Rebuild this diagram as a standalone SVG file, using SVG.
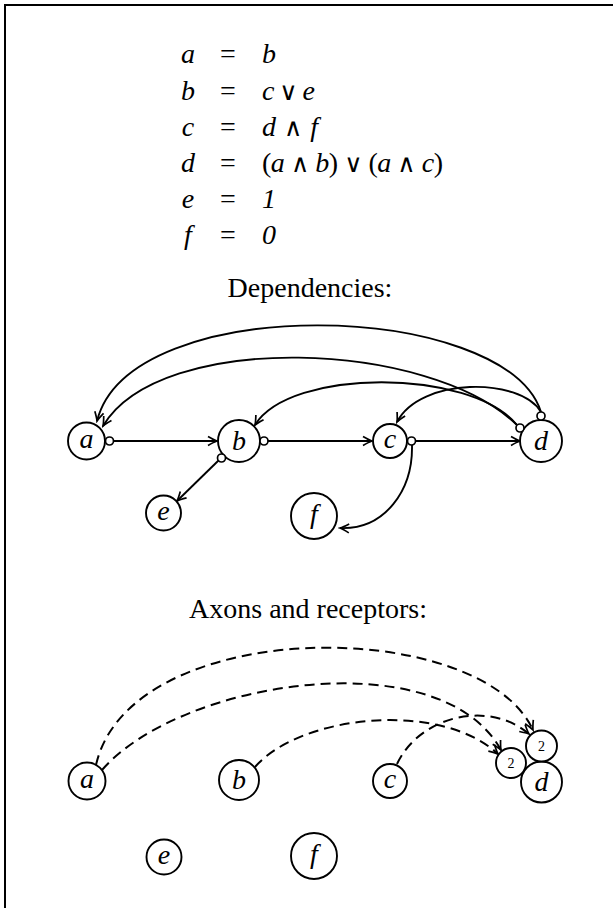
<svg xmlns="http://www.w3.org/2000/svg" width="613" height="908" viewBox="0 0 613 908">
<defs>
<style>
.frame{stroke:#000;stroke-width:2;fill:none}
.node{fill:#fff;stroke:#000;stroke-width:1.9}
.dot{fill:#fff;stroke:#000;stroke-width:1.7}
.lbl{font-family:"Liberation Serif","DejaVu Serif",serif;font-style:italic;font-size:28px;text-anchor:middle}
.small{font-family:"Liberation Serif","DejaVu Serif",serif;font-size:14px;text-anchor:middle}
.eq{font-family:"Liberation Serif","DejaVu Serif",serif;font-size:28px}
.it{font-style:italic}
.op{font-family:"DejaVu Serif",serif;font-size:25px;font-weight:normal}
.title{font-family:"Liberation Serif","DejaVu Serif",serif;font-size:28px;text-anchor:middle}
.edge{fill:none;stroke:#000;stroke-width:1.9}
.dash{fill:none;stroke:#000;stroke-width:2;stroke-dasharray:10 6}
</style>
<marker id="arr" viewBox="-12 -7 14 14" refX="0" refY="0" markerWidth="14" markerHeight="14" orient="auto" markerUnits="userSpaceOnUse">
<path d="M-9,-4.5 Q-3,-1 0,0 Q-3,1 -9,4.5" fill="none" stroke="#000" stroke-width="1.7" stroke-dasharray="none"/>
</marker>
</defs>
<path class="frame" d="M4,5 H613 M5,4 V908"/>
<g id="equations" class="eq">
<text x="188" y="63" text-anchor="middle" class="it">a</text><text x="228" y="63" text-anchor="middle">=</text><text x="262" y="63" class="it">b</text>
<text x="188" y="100" text-anchor="middle" class="it">b</text><text x="228" y="100" text-anchor="middle">=</text><text x="262" y="100" textLength="53" lengthAdjust="spacing"><tspan class="it">c</tspan> <tspan class="op">∨</tspan> <tspan class="it">e</tspan></text>
<text x="188" y="136" text-anchor="middle" class="it">c</text><text x="228" y="136" text-anchor="middle">=</text><text x="262" y="136" textLength="56" lengthAdjust="spacing"><tspan class="it">d</tspan> <tspan class="op">∧</tspan> <tspan class="it">f</tspan></text>
<text x="188" y="172" text-anchor="middle" class="it">d</text><text x="228" y="172" text-anchor="middle">=</text><text x="262" y="172" textLength="181" lengthAdjust="spacing">(<tspan class="it">a</tspan> <tspan class="op">∧</tspan> <tspan class="it">b</tspan>) <tspan class="op">∨</tspan> (<tspan class="it">a</tspan> <tspan class="op">∧</tspan> <tspan class="it">c</tspan>)</text>
<text x="188" y="208" text-anchor="middle" class="it">e</text><text x="228" y="208" text-anchor="middle">=</text><text x="262" y="208" class="it">1</text>
<text x="188" y="244" text-anchor="middle" class="it">f</text><text x="228" y="244" text-anchor="middle">=</text><text x="262" y="244" class="it">0</text>
</g>
<text class="title" x="310" y="297">Dependencies:</text>
<text class="title" x="308" y="618">Axons and receptors:</text>
<g id="connectors">
<path class="edge" marker-end="url(#arr)" d="M114,441 H217"/>
<path class="edge" marker-end="url(#arr)" d="M268,441 H372"/>
<path class="edge" marker-end="url(#arr)" d="M416,441 H520"/>
<path class="edge" marker-end="url(#arr)" d="M219,460 L177,501"/>
<path class="edge" marker-end="url(#arr)" d="M412,445 C413,490 385,530 340,528"/>
<path class="edge" marker-end="url(#arr)" d="M541,412 C505,300 130,290 97,421"/>
<path class="edge" marker-end="url(#arr)" d="M517,425 C430,340 160,330 103,426"/>
<path class="edge" marker-end="url(#arr)" d="M517,425 C470,368 290,368 255,425"/>
<path class="edge" marker-end="url(#arr)" d="M541,412 C520,377 420,377 397,422"/>
<path class="dash" marker-end="url(#arr)" d="M96,765 C130,615 480,615 533,730"/>
<path class="dash" marker-end="url(#arr)" d="M102,770 C180,680 440,640 501,750"/>
<path class="dash" marker-end="url(#arr)" d="M255,767 C300,715 440,700 498,754"/>
<path class="dash" marker-end="url(#arr)" d="M397,764 C420,715 490,700 529,734"/>
</g>
<g id="dep-a"><circle class="node" cx="86.5" cy="441" r="18.5"/><text class="lbl" x="86.5" y="448">a</text></g>
<g id="dep-b"><circle class="node" cx="239" cy="441" r="21"/><text class="lbl" x="239" y="450">b</text></g>
<g id="dep-c"><circle class="node" cx="390" cy="441" r="17"/><text class="lbl" x="390" y="448">c</text></g>
<g id="dep-d"><circle class="node" cx="541" cy="441" r="21"/><text class="lbl" x="541" y="450">d</text></g>
<g id="dep-e"><circle class="node" cx="163.5" cy="513" r="17.5"/><text class="lbl" x="163.5" y="520">e</text></g>
<g id="dep-f"><circle class="node" cx="314" cy="516" r="23"/><text class="lbl" x="314" y="523">f</text></g>
<g id="dep-dots">
<circle class="dot" cx="109.5" cy="441" r="4"/>
<circle class="dot" cx="264" cy="441" r="4"/>
<circle class="dot" cx="221.5" cy="458" r="4"/>
<circle class="dot" cx="411.5" cy="441" r="4"/>
<circle class="dot" cx="520" cy="428" r="4"/>
<circle class="dot" cx="541" cy="416" r="4"/>
</g>
<g id="ax-a"><circle class="node" cx="87" cy="781" r="18.5"/><text class="lbl" x="87" y="788">a</text></g>
<g id="ax-b"><circle class="node" cx="239" cy="780" r="20"/><text class="lbl" x="239" y="789">b</text></g>
<g id="ax-c"><circle class="node" cx="390" cy="781" r="17"/><text class="lbl" x="390" y="788">c</text></g>
<g id="ax-d"><circle class="node" cx="541.5" cy="782" r="20.5"/><text class="lbl" x="541.5" y="791">d</text></g>
<g id="ax-e"><circle class="node" cx="164" cy="857" r="17.5"/><text class="lbl" x="164" y="864">e</text></g>
<g id="ax-f"><circle class="node" cx="314" cy="856" r="23"/><text class="lbl" x="314" y="863">f</text></g>
<g id="ax-r1"><circle class="node" cx="511" cy="763" r="15"/><text class="small" x="511" y="768">2</text></g>
<g id="ax-r2"><circle class="node" cx="541.5" cy="746" r="15.5"/><text class="small" x="541.5" y="751">2</text></g>
</svg>
